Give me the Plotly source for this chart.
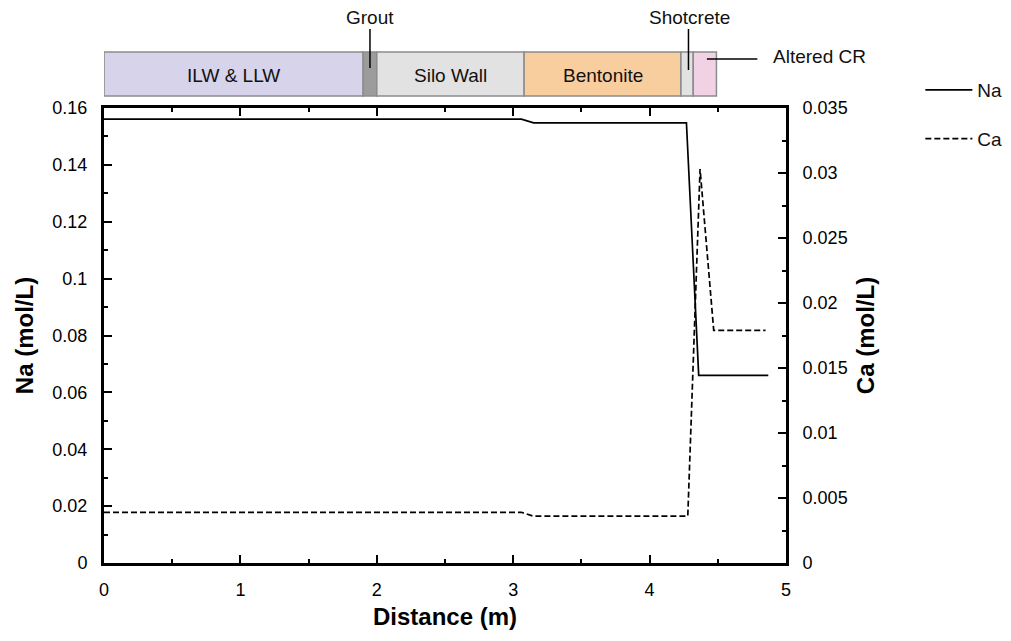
import plotly.graph_objects as go

# ---- data ----
na_x = [0, 3.06, 3.15, 4.27, 4.36, 4.87]
na_y = [0.1561, 0.1561, 0.1548, 0.1548, 0.0660, 0.0660]
ca_x = [0, 3.06, 3.15, 4.28, 4.37, 4.47, 4.85]
ca_y = [0.0039, 0.0039, 0.0036, 0.0036, 0.0303, 0.0179, 0.0179]

mat_names = ["ILW & LLW", "Grout", "Silo Wall", "Bentonite", "Shotcrete", "Altered CR"]
mat_start = [0.0, 1.90, 2.00, 3.08, 4.23, 4.32]
mat_end = [1.90, 2.00, 3.08, 4.23, 4.32, 4.49]
mat_colors = ["#d6d3ea", "#9c9c9c", "#e2e2e2", "#f9ce9f", "#e2e2e2", "#f1d2e4"]
mat_inside = [True, False, True, True, False, False]

FONT = "Liberation Sans, Arial, Helvetica, sans-serif"
LAB = 19
TICK = 18

fig = go.Figure()
fig.add_trace(go.Scatter(x=na_x, y=na_y, mode="lines", name="Na",
                         line=dict(color="black", width=1.7),
                         legendgroup="na", yaxis="y"))
fig.add_trace(go.Scatter(x=ca_x, y=ca_y, mode="lines", name="Ca",
                         line=dict(color="black", width=1.7, dash="6px,3px"),
                         legendgroup="ca", yaxis="y2"))

def py(p):
    return (563 - p) / 455.0

shapes = []
annotations = []
for n, s, e, c, ins in zip(mat_names, mat_start, mat_end, mat_colors, mat_inside):
    shapes.append(dict(type="rect", xref="x", yref="paper", x0=s, x1=e,
                       y0=py(96), y1=py(52), fillcolor=c,
                       line=dict(color="#8c8c8c", width=1.5), layer="above"))
    if ins:
        annotations.append(dict(x=(s + e) / 2, y=py(75), xref="x", yref="paper",
                                text=n, showarrow=False, yanchor="middle",
                                font=dict(size=LAB, color="#111", family=FONT)))

# callouts
shapes.append(dict(type="line", xref="x", yref="paper", x0=1.95, x1=1.95,
                   y0=py(68), y1=py(29), line=dict(color="black", width=1.5)))
annotations.append(dict(x=1.95, y=py(17), xref="x", yref="paper", text="Grout",
                        showarrow=False, yanchor="middle",
                        font=dict(size=LAB, color="#111", family=FONT)))
shapes.append(dict(type="line", xref="x", yref="paper", x0=4.285, x1=4.285,
                   y0=py(70), y1=py(29), line=dict(color="black", width=1.5)))
annotations.append(dict(x=4.29, y=py(17), xref="x", yref="paper", text="Shotcrete",
                        showarrow=False, yanchor="middle",
                        font=dict(size=LAB, color="#111", family=FONT)))
shapes.append(dict(type="line", xref="x", yref="paper", x0=4.42, x1=4.79,
                   y0=py(59), y1=py(59), line=dict(color="black", width=1.5)))
annotations.append(dict(x=4.89, y=py(57), xref="x", yref="paper", text="Altered CR",
                        xanchor="left", yanchor="middle", showarrow=False,
                        font=dict(size=LAB, color="#111", family=FONT)))

tickfont = dict(size=TICK, color="black", family=FONT)
titlefont = dict(size=24, color="black", family=FONT, weight="bold")

fig.update_layout(
    width=1011, height=641,
    margin=dict(l=96, r=233, t=100, b=86, autoexpand=False),
    paper_bgcolor="white", plot_bgcolor="white",
    font=dict(family=FONT, color="black"),
    shapes=shapes, annotations=annotations,
    showlegend=True,
    legend=dict(x=1.197, y=py(71), xanchor="left", yanchor="top",
                font=dict(size=LAB, family=FONT, color="#111"),
                itemwidth=47, tracegroupgap=21, bgcolor="rgba(0,0,0,0)"),
    xaxis=dict(range=[0, 5], dtick=1, tick0=0, ticks="inside", ticklen=8, tickwidth=2,
               tickcolor="black", showline=True, linewidth=3, linecolor="black",
               mirror="ticks", showgrid=False, zeroline=False, tickfont=tickfont,
               ticklabelstandoff=8, automargin=False,
               minor=dict(dtick=0.5, ticks="inside", ticklen=4, tickwidth=2, tickcolor="black"),
               title=dict(text="Distance (m)", font=titlefont, standoff=10)),
    yaxis=dict(range=[0, 0.16], dtick=0.02, tick0=0, ticks="inside", ticklen=8, tickwidth=2,
               tickcolor="black", showline=True, linewidth=3, linecolor="black",
               showgrid=False, zeroline=False, tickfont=tickfont, ticklabelstandoff=10,
               automargin=False,
               minor=dict(dtick=0.01, ticks="inside", ticklen=4, tickwidth=2, tickcolor="black"),
               title=dict(text="Na (mol/L)", font=titlefont, standoff=12)),
    yaxis2=dict(range=[0, 0.035], dtick=0.005, tick0=0, overlaying="y", side="right",
                ticks="inside", ticklen=8, tickwidth=2, tickcolor="black",
                showline=True, linewidth=3, linecolor="black", automargin=False,
                showgrid=False, zeroline=False, tickfont=tickfont, ticklabelstandoff=10,
                minor=dict(dtick=0.0025, ticks="inside", ticklen=4, tickwidth=2, tickcolor="black"),
                title=dict(text="Ca (mol/L)", font=titlefont, standoff=11)),
)

fig.write_html("out.html")
